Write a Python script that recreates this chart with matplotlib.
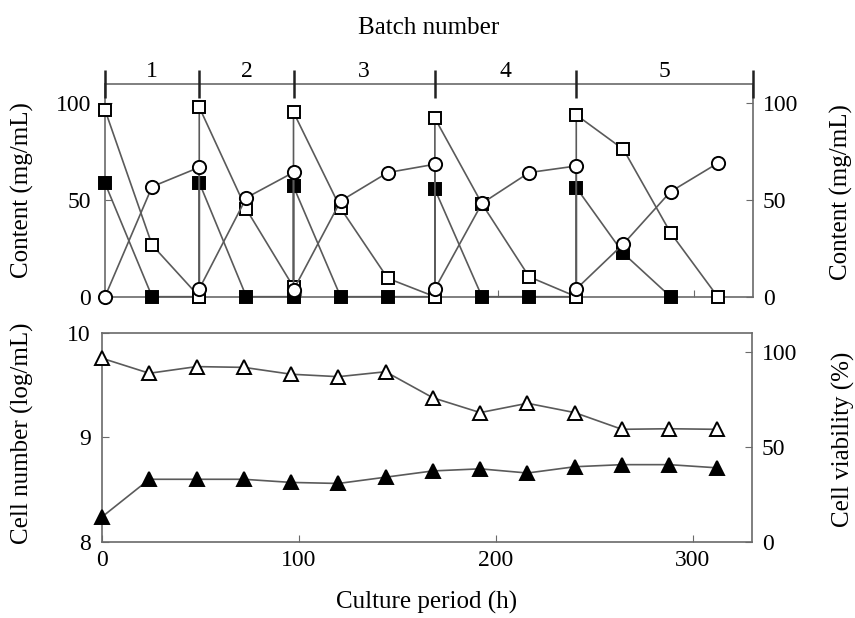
import matplotlib
matplotlib.use("Agg")
import matplotlib.pyplot as plt
from matplotlib.transforms import blended_transform_factory

plt.rcParams['font.family'] = ['Liberation Serif', 'DejaVu Serif']

# --- data ---
# top panel: content (mg/mL); batch changes give two points at the same hour
sq_open_t = [0, 24, 48, 48, 72, 96, 96, 120, 144, 168, 168, 192, 216, 240, 240, 264, 288, 312]
sq_open_v = [96.6, 26.7, 0, 98, 45.2, 5, 95.4, 45.7, 9.5, 0, 92.3, 48, 10.3, 0, 94, 76.2, 33.1, 0]

sq_fill_t = [0, 24, 48, 48, 72, 96, 96, 120, 144, 168, 168, 192, 216, 240, 240, 264, 288]
sq_fill_v = [58.7, 0, 0, 59, 0, 0, 57, 0, 0, 0, 55.5, 0, 0, 0, 56.4, 22.4, 0]

circ_t = [0, 24, 48, 48, 72, 96, 96, 120, 144, 168, 168, 192, 216, 240, 240, 264, 288, 312]
circ_v = [0, 56.9, 66.9, 4, 51.2, 64.3, 3.5, 49.5, 64.2, 68.5, 4, 48.3, 64.2, 67.6, 4, 27.3, 54.3, 69]

# batch boundaries (h) and labels
batch_edges = [0, 48, 96, 168, 240]
batch_labels = ['1', '2', '3', '4', '5']

# bottom panel
hours = [0, 24, 48, 72, 96, 120, 144, 168, 192, 216, 240, 264, 288, 312]
cell_number = [8.24, 8.60, 8.60, 8.60, 8.57, 8.56, 8.62, 8.68, 8.70, 8.66, 8.72, 8.74, 8.74, 8.71]
viability = [96.7, 88.8, 92.3, 91.9, 88.3, 87.0, 89.6, 75.9, 68.1, 73.0, 68.1, 59.3, 59.6, 59.3]

XMAX = 330
LINE = '#5a5a5a'
SPINE = '#6a6a6a'
FS_TICK = 17
FS_LAB = 18
MS = 9.5
MEW = 1.4

fig = plt.figure(figsize=(8.55, 6.18), dpi=100)

# ---------------- top panel ----------------
ax = fig.add_axes([0.1228, 0.5199, 0.7579, 0.3442])
ax.set_xlim(0, XMAX)
ax.set_ylim(0, 110)

ax.plot(sq_fill_t, sq_fill_v, color=LINE, lw=1.2, marker='s', ms=MS - 0.5,
        mfc='black', mec='black', mew=MEW, clip_on=False, zorder=3)
ax.plot(sq_open_t, sq_open_v, color=LINE, lw=1.2, marker='s', ms=MS - 0.5,
        mfc='white', mec='black', mew=MEW, clip_on=False, zorder=4)
ax.plot(circ_t, circ_v, color=LINE, lw=1.2, marker='o', ms=MS,
        mfc='white', mec='black', mew=MEW, clip_on=False, zorder=5)

ax.set_yticks([0, 50, 100])
ax.set_xticks([100, 200, 300])
ax.tick_params(axis='x', direction='in', length=5, color=SPINE, labelbottom=False)
ax.tick_params(axis='y', direction='in', length=5, color=SPINE, labelsize=FS_TICK, pad=10)
ax.set_ylabel('Content (mg/mL)', fontsize=FS_LAB)
ax.yaxis.set_label_coords(-0.11, 0.5)
for s in ax.spines.values():
    s.set_color(SPINE)
    s.set_linewidth(1.2)

axr = ax.twinx()
axr.set_ylim(0, 110)
axr.set_yticks([0, 50, 100])
axr.tick_params(axis='y', direction='in', length=5, color=SPINE, labelsize=FS_TICK, pad=7)
axr.set_ylabel('Content (mg/mL)', fontsize=FS_LAB)
axr.yaxis.set_label_coords(1.118, 0.49)
for s in axr.spines.values():
    s.set_visible(False)

# batch axis along the top
axt = ax.twiny()
axt.set_xlim(0, XMAX)
axt.set_xticks(batch_edges + [XMAX])
axt.tick_params(axis='x', direction='inout', length=20, width=1.8, color='#222222',
                labeltop=False)
for s in axt.spines.values():
    s.set_visible(False)
axt.set_xlabel('Batch number', fontsize=FS_LAB)
axt.xaxis.set_label_coords(0.5, 1.235)

edges = batch_edges + [XMAX]
trans = blended_transform_factory(ax.transData, ax.transAxes)
for i, lab in enumerate(batch_labels):
    mid = (edges[i] + edges[i + 1]) / 2
    ax.text(mid, 1.06, lab, transform=trans, ha='center', va='center',
            fontsize=FS_TICK, clip_on=False)

# ---------------- bottom panel ----------------
bx = fig.add_axes([0.1193, 0.1230, 0.7602, 0.3382])
bx.set_xlim(0, XMAX)
bx.set_ylim(8, 10)
bx.plot(hours, cell_number, color=LINE, lw=1.2, marker='^', ms=MS,
        mfc='black', mec='black', mew=MEW, clip_on=False, zorder=3)
bx.set_yticks([8, 9, 10])
bx.set_xticks([0, 100, 200, 300])
bx.tick_params(axis='both', direction='in', length=5, color=SPINE, labelsize=FS_TICK)
bx.tick_params(axis='y', pad=8)
bx.tick_params(axis='x', pad=6)
bx.set_ylabel('Cell number (log/mL)', fontsize=FS_LAB)
bx.yaxis.set_label_coords(-0.105, 0.52)
bx.set_xlabel('Culture period (h)', fontsize=FS_LAB, labelpad=14)
for s in bx.spines.values():
    s.set_color(SPINE)
    s.set_linewidth(1.2)

bxr = bx.twinx()
bxr.set_ylim(0, 110)
bxr.plot(hours, viability, color=LINE, lw=1.2, marker='^', ms=MS,
         mfc='white', mec='black', mew=MEW, clip_on=False, zorder=3)
bxr.set_yticks([0, 50, 100])
bxr.tick_params(axis='y', direction='in', length=5, color=SPINE, labelsize=FS_TICK, pad=7)
bxr.set_ylabel('Cell viability (%)', fontsize=FS_LAB)
bxr.yaxis.set_label_coords(1.123, 0.49)
for s in bxr.spines.values():
    s.set_visible(False)

fig.savefig('out.png', dpi=100)
